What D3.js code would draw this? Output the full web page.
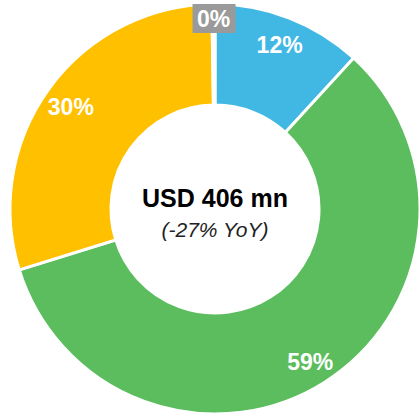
<!DOCTYPE html>
<html>
<head>
<meta charset="utf-8">
<script src="https://cdn.jsdelivr.net/npm/d3@7"></script>
<style>
  body { margin: 0; background: #fff; }
  svg { display: block; font-family: "Liberation Sans", Arial, sans-serif; }
</style>
</head>
<body>
<div class="chart"></div>
<script>
// segment values, USD mn (total 406)
var segments = ["A", "B", "C", "D"];
var values = [48, 237, 120, 1];
var labels = ["12%", "59%", "30%", "0%"];
var colors = ["#41b8e4", "#5bbd5e", "#ffc000", "#9a9a9a"];
var centerTitle = "USD 406 mn";
var centerSub = "(-27% YoY)";

var svgWidth = 419;
var svgHeight = 418;
var cx = 215, cy = 209;
var outerR = 205, innerR = 104;

var svg = d3.select(".chart")
    .append("svg")
    .attr("width", svgWidth)
    .attr("height", svgHeight);

var chart = svg.append("g")
    .attr("transform", "translate(" + cx + "," + cy + ")");

var data = segments.map(function(s, i) {
    return { name: s, value: values[i], label: labels[i], color: colors[i] };
});

var pie = d3.pie()
    .sort(null)
    .value(function(d) { return d.value; });

var arc = d3.arc()
    .innerRadius(innerR)
    .outerRadius(outerR);

var labelArc = d3.arc()
    .innerRadius(178)
    .outerRadius(178);

var arcs = pie(data);

chart.selectAll("path")
    .data(arcs)
    .enter()
    .append("path")
    .attr("d", arc)
    .attr("fill", function(d) { return d.data.color; })
    .attr("stroke", "#fff")
    .attr("stroke-width", 3);

// regular labels
chart.selectAll(".slice-label")
    .data(arcs.filter(function(d) { return d.data.value > 5; }))
    .enter()
    .append("text")
    .attr("class", "slice-label")
    .attr("transform", function(d) {
        var c = labelArc.centroid(d);
        return "translate(" + c[0] + "," + (c[1] + 2) + ")";
    })
    .attr("text-anchor", "middle")
    .attr("dy", "0.36em")
    .style("font-size", "23px")
    .style("font-weight", "bold")
    .style("fill", "#fff")
    .text(function(d) { return d.data.label; });

// tiny slice label with box
var small = arcs.filter(function(d) { return d.data.value <= 5; });
var smallG = chart.selectAll(".small-label")
    .data(small)
    .enter()
    .append("g")
    .attr("class", "small-label")
    .attr("transform", function(d) {
        var a = (d.startAngle + d.endAngle) / 2;
        var r = 190;
        return "translate(" + (Math.sin(a) * r) + "," + (-Math.cos(a) * r) + ")";
    });

smallG.append("rect")
    .attr("x", -21)
    .attr("y", -15)
    .attr("width", 43)
    .attr("height", 29)
    .attr("fill", "#9a9a9a");

smallG.append("text")
    .attr("text-anchor", "middle")
    .attr("dy", "0.36em")
    .style("font-size", "23px")
    .style("font-weight", "bold")
    .style("fill", "#fff")
    .text(function(d) { return d.data.label; });

// center text
chart.append("text")
    .attr("text-anchor", "middle")
    .attr("y", -2)
    .style("font-size", "25px")
    .style("font-weight", "bold")
    .style("fill", "#000")
    .text(centerTitle);

chart.append("text")
    .attr("text-anchor", "middle")
    .attr("y", 28)
    .style("font-size", "21px")
    .style("font-style", "italic")
    .style("fill", "#222")
    .text(centerSub);
</script>
</body>
</html>
